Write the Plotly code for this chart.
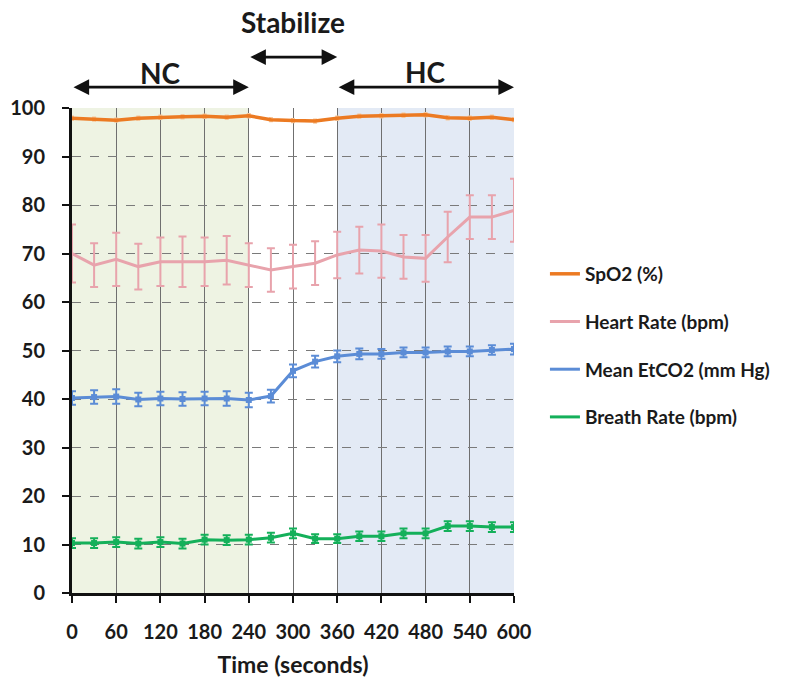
import plotly.graph_objects as go

# Time points (seconds)
time_s = [0, 30, 60, 90, 120, 150, 180, 210, 240, 270, 300, 330, 360, 390, 420, 450, 480, 510, 540, 570, 600]

# Series means
spo2 = [97.9, 97.7, 97.5, 97.9, 98.1, 98.2, 98.3, 98.1, 98.4, 97.6, 97.4, 97.3, 97.9, 98.3, 98.4, 98.5, 98.6, 98.0, 97.9, 98.1, 97.6]
heart_rate = [70.0, 67.6, 68.8, 67.3, 68.3, 68.3, 68.3, 68.6, 67.6, 66.6, 67.3, 68.0, 69.7, 70.7, 70.5, 69.3, 69.0, 73.4, 77.5, 77.5, 78.9]
etco2 = [40.2, 40.4, 40.5, 39.9, 40.1, 40.0, 40.1, 40.1, 39.8, 40.6, 45.8, 47.7, 48.8, 49.3, 49.3, 49.6, 49.6, 49.8, 49.8, 50.1, 50.3]
breath_rate = [10.3, 10.3, 10.5, 10.2, 10.5, 10.2, 11.0, 10.9, 11.0, 11.4, 12.3, 11.2, 11.2, 11.7, 11.7, 12.3, 12.3, 13.8, 13.8, 13.6, 13.6]

# Error bar half-widths
spo2_err = [0.4] * 21
heart_rate_err = [6.0, 4.5, 5.5, 4.7, 5.0, 5.2, 5.0, 5.0, 4.5, 4.5, 4.5, 4.5, 4.8, 4.8, 5.5, 4.5, 4.8, 5.2, 4.5, 4.5, 6.5]
etco2_err = [1.4, 1.4, 1.5, 1.4, 1.4, 1.4, 1.4, 1.5, 1.5, 1.3, 1.3, 1.2, 1.2, 1.1, 1.0, 1.0, 1.0, 1.0, 1.0, 1.0, 1.1]
breath_rate_err = [1.0, 1.0, 1.0, 1.0, 1.0, 1.0, 1.0, 1.0, 1.0, 1.0, 1.0, 0.9, 0.9, 1.0, 1.0, 1.0, 1.0, 1.0, 1.0, 1.0, 1.0]

series_names = ["SpO2 (%)", "Heart Rate (bpm)", "Mean EtCO2 (mm Hg)", "Breath Rate (bpm)"]
x_ticks = [0, 60, 120, 180, 240, 300, 360, 420, 480, 540, 600]
y_ticks = [0, 10, 20, 30, 40, 50, 60, 70, 80, 90, 100]

# Phases: label, start, end
phases = [("NC", 0, 240), ("Stabilize", 240, 360), ("HC", 360, 600)]

FONT = "Lato"
TEXT = "#1a1a1a"
orange = "#ec7a22"
pink = "#e8a3ac"
blue = "#5b8cd6"
green = "#14b05a"

fig = go.Figure()

fig.add_trace(go.Scatter(
    x=time_s, y=spo2, name=series_names[0], mode="lines", legendgroup="a",
    line=dict(color=orange, width=3.5),
    error_y=dict(type="data", array=spo2_err, color="#f6c79c", thickness=1.5, width=2),
))
fig.add_trace(go.Scatter(
    x=time_s, y=heart_rate, name=series_names[1], mode="lines", legendgroup="b",
    line=dict(color=pink, width=3),
    error_y=dict(type="data", array=heart_rate_err, color=pink, thickness=2, width=4),
))
fig.add_trace(go.Scatter(
    x=time_s, y=etco2, name=series_names[2], mode="lines", legendgroup="c",
    line=dict(color=blue, width=3),
    error_y=dict(type="data", array=etco2_err, color=blue, thickness=2, width=4),
))
fig.add_trace(go.Scatter(
    x=time_s, y=breath_rate, name=series_names[3], mode="lines", legendgroup="d",
    line=dict(color=green, width=3),
    error_y=dict(type="data", array=breath_rate_err, color=green, thickness=2, width=4),
))
# square point markers for EtCO2 and breath rate
for ys, col in ((etco2, blue), (breath_rate, green)):
    fig.add_trace(go.Scatter(
        x=time_s, y=ys, mode="markers", showlegend=False, hoverinfo="skip",
        marker=dict(symbol="square", size=6, color=col),
    ))

# Shaded phase backgrounds
fig.add_shape(type="rect", xref="x", yref="y", x0=phases[0][1], x1=phases[0][2], y0=0, y1=100,
              fillcolor="#eef3e3", line_width=0, layer="below")
fig.add_shape(type="rect", xref="x", yref="y", x0=phases[2][1], x1=phases[2][2], y0=0, y1=100,
              fillcolor="#e3eaf5", line_width=0, layer="below")

# Phase labels with double-headed arrows above the plot (y-domain fractions)
arrow_y = {"NC": 1.043, "Stabilize": 1.105, "HC": 1.043}
label_y = {"NC": 1.072, "Stabilize": 1.177, "HC": 1.074}
for name, x0, x1 in phases:
    fig.add_annotation(x=x1, y=arrow_y[name], ax=x0, ay=arrow_y[name], xref="x", yref="y domain",
                       axref="x", ayref="y domain", text="", showarrow=True, arrowhead=2,
                       arrowside="end+start", arrowsize=1.2, arrowwidth=2.6, arrowcolor="#111")
    fig.add_annotation(x=(x0 + x1) / 2, y=label_y[name], xref="x", yref="y domain", text=name,
                       showarrow=False, yanchor="middle",
                       font=dict(family=FONT, size=28, color=TEXT, weight="bold"))

fig.update_xaxes(
    range=[0, 600], tickvals=x_ticks, ticktext=[str(v) for v in x_ticks],
    showgrid=True, gridcolor="#6f6f6f", gridwidth=1,
    showline=True, linecolor="#111", linewidth=2.5,
    ticks="outside", ticklen=7, tickwidth=2, tickcolor="#111", ticklabelstandoff=12,
    tickfont=dict(family=FONT, size=20, color=TEXT, weight="bold"),
    title=dict(text="Time (seconds)", standoff=16,
               font=dict(family=FONT, size=23, color=TEXT, weight="bold")),
    zeroline=False,
)
fig.update_yaxes(
    range=[0, 100], tickvals=y_ticks,
    showgrid=True, gridcolor="#7a7a7a", gridwidth=1, griddash="dash",
    showline=True, linecolor="#111", linewidth=3,
    ticks="outside", ticklen=7, tickwidth=2, tickcolor="#111", ticklabelstandoff=13,
    tickfont=dict(family=FONT, size=20, color=TEXT, weight="bold"),
    zeroline=False,
)

fig.update_layout(
    width=787, height=689,
    margin=dict(l=72, r=273, t=108, b=96, autoexpand=False),
    paper_bgcolor="white", plot_bgcolor="white",
    legend=dict(x=1.07, y=0.697, xanchor="left", yanchor="top", tracegroupgap=20,
                font=dict(family=FONT, size=19, color=TEXT, weight="bold"),
                bgcolor="rgba(0,0,0,0)", itemwidth=30),
    showlegend=True,
)

fig.write_html("out.html")
